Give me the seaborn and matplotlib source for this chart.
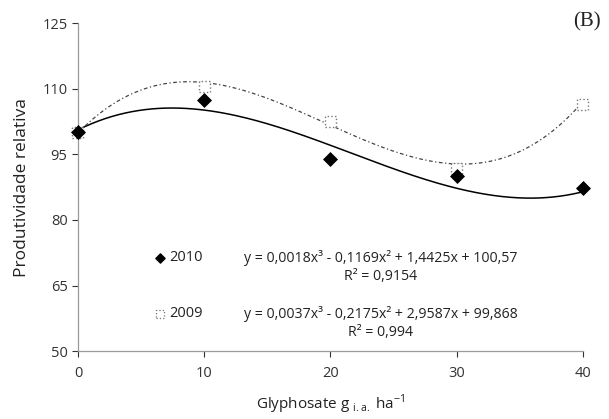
import numpy as np
import pandas as pd
import matplotlib
matplotlib.use("Agg")
import matplotlib.pyplot as plt
import seaborn as sns

doses = [0, 10, 20, 30, 40]
prod_2010 = [100.0, 107.4, 94.0, 90.1, 87.2]
prod_2009 = [100.0, 110.6, 102.4, 91.8, 106.4]
coef_2010 = [0.0018, -0.1169, 1.4425, 100.57]
coef_2009 = [0.0037, -0.2175, 2.9587, 99.868]
eq_2010 = ["y = 0,0018x³ - 0,1169x² + 1,4425x + 100,57", "R² = 0,9154"]
eq_2009 = ["y = 0,0037x³ - 0,2175x² + 2,9587x + 99,868", "R² = 0,994"]
yticks = [50, 65, 80, 95, 110, 125]
xticks = [0, 10, 20, 30, 40]

sns.set_theme(style="white")
plt.rcParams['font.family'] = ['Open Sans', 'DejaVu Sans']

fig = plt.figure(figsize=(6.09, 4.19), dpi=100)
ax = fig.add_axes([0.128, 0.162, 0.829, 0.783])

xs = np.linspace(0, 40, 300)
curves = pd.DataFrame({
    "x": np.concatenate([xs, xs]),
    "y": np.concatenate([np.polyval(coef_2010, xs), np.polyval(coef_2009, xs)]),
    "ano": ["2010"] * len(xs) + ["2009"] * len(xs),
})
sns.lineplot(data=curves[curves.ano == "2010"], x="x", y="y", color="black",
             lw=1.1, ax=ax, legend=False)
sns.lineplot(data=curves[curves.ano == "2009"], x="x", y="y", color="#444444",
             lw=0.9, ax=ax, legend=False, dashes=False)
ax.lines[-1].set_linestyle((0, (3, 2, 1, 2)))

sns.scatterplot(x=doses, y=prod_2009, marker="s", s=62, facecolor="white",
                edgecolor="#777777", linewidth=1.0, linestyle=":", ax=ax, zorder=3,
                clip_on=False)
sns.scatterplot(x=doses, y=prod_2010, marker="D", s=50, color="black",
                edgecolor="black", ax=ax, zorder=4, clip_on=False)

ax.set_xlim(0, 40)
ax.set_ylim(50, 125)
ax.set_xticks(xticks)
ax.set_yticks(yticks)
ax.tick_params(axis="both", labelsize=10.5, colors="#333333", length=4, width=0.8,
               direction="out", bottom=True, left=True)
ax.tick_params(axis="x", pad=7)
for s in ["top", "right"]:
    ax.spines[s].set_visible(False)
for s in ["left", "bottom"]:
    ax.spines[s].set_color("#999999")
    ax.spines[s].set_linewidth(0.9)

ax.set_ylabel("Produtividade relativa", fontsize=12.5, color="#222222", labelpad=9)
ax.set_xlabel(r"Glyphosate g $_{\mathregular{i.a.}}$ ha$^{\mathregular{-1}}$", fontsize=11,
              color="#222222", labelpad=8)

# legend-like annotations
ax.scatter([6.5], [71.3], marker="D", s=22, color="black", zorder=5, clip_on=False)
ax.text(7.2, 71.3, "2010", fontsize=10.5, va="center", ha="left", color="#222222")
ax.scatter([6.5], [58.5], marker="s", s=30, facecolor="white", edgecolor="#777777",
           linestyle=":", linewidth=0.9, zorder=5, clip_on=False)
ax.text(7.2, 58.5, "2009", fontsize=10.5, va="center", ha="left", color="#222222")
ax.text(24.0, 71.3, eq_2010[0], fontsize=10.2, va="center", ha="center", color="#222222")
ax.text(24.0, 67.0, eq_2010[1], fontsize=10.2, va="center", ha="center", color="#222222")
ax.text(24.0, 58.5, eq_2009[0], fontsize=10.2, va="center", ha="center", color="#222222")
ax.text(24.0, 54.3, eq_2009[1], fontsize=10.2, va="center", ha="center", color="#222222")

fig.text(0.987, 0.948, "(B)", fontsize=15, family="Liberation Serif", ha="right",
         va="center", color="#222222")

fig.savefig("out.png", dpi=100)
